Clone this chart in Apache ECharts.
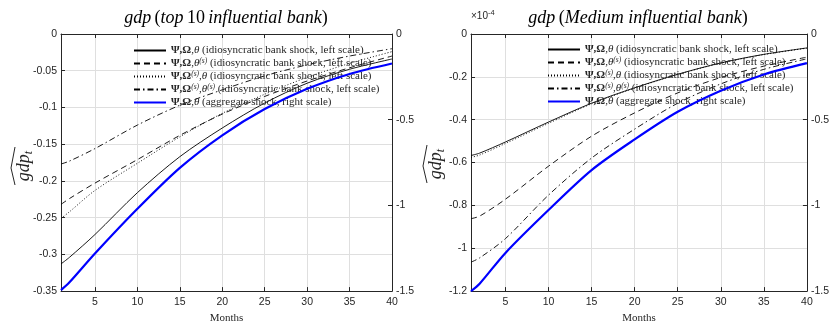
<!DOCTYPE html>
<html>
<head>
<meta charset="utf-8">
<script src="https://cdn.jsdelivr.net/npm/echarts@6/dist/echarts.min.js"></script>
<style>html,body{margin:0;padding:0;background:#fff}#c{width:832px;height:329px}</style>
</head>
<body>
<div id="c"></div>
<script>
// ---- data ----
const months = [1, 2, 5, 10, 15, 20, 25, 30, 35, 40];
const xTicks = [5, 10, 15, 20, 25, 30, 35, 40];

// Left panel: top 10 influential bank (left scale) / aggregate (right scale)
const topSolid   = [-0.313, -0.304, -0.273, -0.216, -0.167, -0.128, -0.094, -0.067, -0.048, -0.034];
const topDashed  = [-0.232, -0.224, -0.203, -0.171, -0.138, -0.109, -0.085, -0.064, -0.046, -0.030];
const topDotted  = [-0.251, -0.242, -0.213, -0.176, -0.140, -0.108, -0.082, -0.059, -0.040, -0.024];
const topDashDot = [-0.177, -0.173, -0.156, -0.124, -0.097, -0.076, -0.057, -0.042, -0.030, -0.020];
const topAgg     = [-1.494, -1.449, -1.281, -1.020, -0.781, -0.591, -0.438, -0.320, -0.233, -0.172];

// Right panel: medium influential bank (left scale, x1e-4) / aggregate (right scale)
const medSolid   = [-0.567, -0.556, -0.504, -0.411, -0.323, -0.251, -0.188, -0.135, -0.095, -0.065];
const medDotted  = [-0.576, -0.565, -0.511, -0.417, -0.326, -0.253, -0.189, -0.136, -0.096, -0.066];
const medDashed  = [-0.862, -0.850, -0.771, -0.617, -0.477, -0.368, -0.275, -0.203, -0.150, -0.108];
const medDashDot = [-1.065, -1.045, -0.955, -0.752, -0.579, -0.444, -0.323, -0.233, -0.165, -0.116];
const medAgg     = [-1.500, -1.457, -1.277, -1.027, -0.794, -0.615, -0.454, -0.331, -0.236, -0.170];

const names = [
  'Ψ,Ω,θ (idiosyncratic bank shock, left scale)',
  'Ψ,Ω,θ(s) (idiosyncratic bank shock, left scale)',
  'Ψ,Ω(s),θ (idiosyncratic bank shock, left scale)',
  'Ψ,Ω(s),θ(s) (idiosyncratic bank shock, left scale)',
  'Ψ,Ω,θ (aggregate shock, right scale)'
];
const richNames = {};
richNames[names[0]] = '{b|Ψ,Ω}{n|,}{i|θ}{n| (idiosyncratic bank shock, left scale)}';
richNames[names[1]] = '{b|Ψ,Ω}{n|,}{i|θ}{s|(s)}{n| (idiosyncratic bank shock, left scale)}';
richNames[names[2]] = '{b|Ψ,Ω}{s|(s)}{n|,}{i|θ}{n| (idiosyncratic bank shock, left scale)}';
richNames[names[3]] = '{b|Ψ,Ω}{s|(s)}{n|,}{i|θ}{s|(s)}{n| (idiosyncratic bank shock, left scale)}';
richNames[names[4]] = '{b|Ψ,Ω}{n|,}{i|θ}{n| (aggregate shock, right scale)}';

// ---- styles ----
const AX = '#262626';
const SERIF = '"Liberation Serif", "DejaVu Serif", serif';
const SANS = '"Liberation Sans", Arial, sans-serif';
const styles = [
  {color: '#000', width: 0.9, type: 'solid'},
  {color: '#000', width: 0.9, type: [6, 4]},
  {color: '#000', width: 0.9, type: [1, 2]},
  {color: '#000', width: 0.9, type: [6, 3, 1.5, 3]},
  {color: '#0000ff', width: 2.2, type: 'solid'}
];

function xAxes(g) {
  return [{
    gridIndex: g, type: 'value', min: 1, max: 40, position: 'bottom',
    axisLine: {show: true, onZero: false, lineStyle: {color: AX, width: 1}},
    axisTick: {show: true, inside: true, length: 4, customValues: xTicks, lineStyle: {color: AX}},
    axisLabel: {customValues: xTicks, color: AX, fontFamily: SANS, fontSize: 10.5, margin: 6},
    splitLine: {show: true, lineStyle: {color: '#dfdfdf', width: 1}},
    name: 'Months', nameLocation: 'middle', nameGap: 20,
    nameTextStyle: {fontFamily: SERIF, fontSize: 11, color: AX}
  }, {
    gridIndex: g, type: 'value', min: 1, max: 40, position: 'top',
    axisLine: {show: true, onZero: false, lineStyle: {color: AX, width: 1}},
    axisTick: {show: true, inside: true, length: 4, customValues: xTicks, lineStyle: {color: AX}},
    axisLabel: {show: false}, splitLine: {show: false}
  }];
}
function yAxis(g, min, interval, pos, grid) {
  return {
    gridIndex: g, type: 'value', min: min, max: 0, interval: interval, position: pos,
    axisLine: {show: true, onZero: false, lineStyle: {color: AX, width: 1}},
    axisTick: {show: true, inside: true, length: 4, lineStyle: {color: AX}},
    axisLabel: {color: AX, fontFamily: SANS, fontSize: 10.5, margin: 4},
    splitLine: {show: grid, lineStyle: {color: '#dfdfdf', width: 1}}
  };
}

function mk(i, data, xi, yi) {
  return {
    type: 'line', name: names[i], xAxisIndex: xi, yAxisIndex: yi,
    data: months.map((m, k) => [m, data[k]]),
    symbol: 'none', showSymbol: false, smooth: 0.3,
    lineStyle: styles[i], itemStyle: {color: styles[i].color},
    z: i === 4 ? 5 : 3
  };
}

const FS = 11;
const legendRich = {
  b: {fontFamily: SERIF, fontWeight: 'bold', fontSize: FS, color: AX, lineHeight: 13},
  i: {fontFamily: SERIF, fontStyle: 'italic', fontSize: FS, color: AX, lineHeight: 13},
  n: {fontFamily: SERIF, fontSize: FS, color: AX, lineHeight: 13},
  s: {fontFamily: SERIF, fontStyle: 'italic', fontSize: 7.5, color: AX, lineHeight: 13, padding: [0, 0, 5, 0]}
};
function legend(left, top) {
  return {
    show: true, type: 'plain',
    orient: 'vertical', left: left, top: top, data: names,
    itemWidth: 32, itemHeight: 10, itemGap: 0, padding: 0,
    itemStyle: {opacity: 0, borderWidth: 0},
    formatter: function (n) { return richNames[n] || n; },
    textStyle: {fontFamily: SERIF, fontSize: FS, color: AX, lineHeight: 13, rich: legendRich}
  };
}

function yName(x, y) {
  return {
    type: 'group', x: x, y: y, rotation: Math.PI / 2,
    children: [
      {type: 'text', x: 0, y: 0, style: {
        text: '{i|gdp}{t|t}', align: 'center', verticalAlign: 'middle',
        rich: {i: {fontFamily: SERIF, fontStyle: 'italic', fontSize: 18, fill: AX},
               t: {fontFamily: SERIF, fontStyle: 'italic', fontSize: 12, fill: AX, padding: [9, 0, 0, 0]}}
      }},
      {type: 'polyline', shape: {points: [[-19, -9], [-2, -13], [19, -9]]},
       style: {stroke: AX, lineWidth: 1, fill: null}}
    ]
  };
}
const titleRich = {
  i: {fontFamily: SERIF, fontStyle: 'italic', fontSize: 18, fill: '#000'},
  n: {fontFamily: SERIF, fontSize: 18, fill: '#000'}
};

const chart = echarts.init(document.getElementById('c'), null, {renderer: 'canvas'});
chart.setOption({
  animation: false,
  backgroundColor: '#fff',
  grid: [
    {left: 61, right: 440, top: 34, bottom: 33, containLabel: false},
    {left: 471, right: 25, top: 34, bottom: 33, containLabel: false}
  ],
  xAxis: [...xAxes(0), ...xAxes(1)],
  yAxis: [
    yAxis(0, -0.35, 0.05, 'left', true),
    yAxis(0, -1.5, 0.5, 'right', false),
    yAxis(1, -1.2, 0.2, 'left', true),
    yAxis(1, -1.5, 0.5, 'right', false)
  ],
  legend: [legend(133, 44), legend(547, 43)],
  graphic: [
    {type: 'text', x: 226, y: 18, style: {
      text: '{i|gdp} {n|(}{i|top} {n|10} {i|influential bank}{n|)}',
      align: 'center', verticalAlign: 'middle', rich: titleRich}},
    {type: 'text', x: 638, y: 18, style: {
      text: '{i|gdp} {n|(}{i|Medium influential bank}{n|)}',
      align: 'center', verticalAlign: 'middle', rich: titleRich}},
    {type: 'text', x: 471, y: 16, style: {
      text: '{a|×10}{b|-4}', align: 'left', verticalAlign: 'middle',
      rich: {a: {fontFamily: SANS, fontSize: 10, fill: AX},
             b: {fontFamily: SANS, fontSize: 7.5, fill: AX, padding: [0, 0, 7, 0]}}}},
    yName(24, 166),
    yName(436, 164)
  ],
  series: [
    mk(0, topSolid, 0, 0), mk(1, topDashed, 0, 0), mk(2, topDotted, 0, 0), mk(3, topDashDot, 0, 0), mk(4, topAgg, 0, 1),
    mk(0, medSolid, 2, 2), mk(1, medDashed, 2, 2), mk(2, medDotted, 2, 2), mk(3, medDashDot, 2, 2), mk(4, medAgg, 2, 3)
  ]
});
</script>
</body>
</html>
